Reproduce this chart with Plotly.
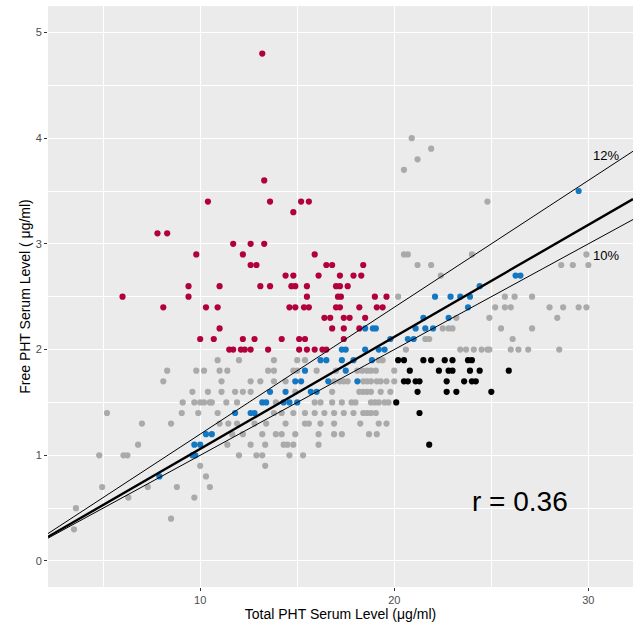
import plotly.graph_objects as go

# ---------------- data ----------------
red_x = [13.2, 13.3, 10.4, 13.6, 15.2, 15.6, 14.8, 7.8, 8.3, 11.7, 12.6, 13.3,
         9.8, 12.2, 15.9, 12.6, 12.9, 16.5, 16.8, 18.4,
         14.4, 14.8, 16.1, 17.2, 17.9, 18.3,
         9.4, 11.0, 13.1, 13.6, 14.7, 14.9, 15.5, 17.0, 17.2, 17.6,
         6.0, 9.4, 15.5, 17.1, 17.25, 19.0, 19.6,
         8.1, 10.3, 10.9, 14.6, 14.9, 15.35, 15.6, 17.0, 17.2, 18.2, 19.1, 19.4,
         16.4, 16.7, 17.4, 17.7, 18.5,
         11.0, 16.8, 17.4, 18.2,
         10.0, 10.7, 12.2, 12.8, 14.2, 15.1, 15.4, 17.4,
         11.5, 11.7, 12.1, 12.3, 12.6, 13.5, 15.1, 15.5, 15.9, 16.3, 16.5]
red_y = [4.8, 3.6, 3.4, 3.4, 3.4, 3.4, 3.3, 3.1, 3.1, 3.0, 3.0, 3.0,
         2.9, 2.9, 2.9, 2.8, 2.8, 2.8, 2.8, 2.8,
         2.7, 2.7, 2.7, 2.7, 2.7, 2.7,
         2.6, 2.6, 2.6, 2.6, 2.6, 2.6, 2.6, 2.6, 2.6, 2.6,
         2.5, 2.5, 2.5, 2.5, 2.5, 2.5, 2.5,
         2.4, 2.4, 2.4, 2.4, 2.4, 2.4, 2.4, 2.4, 2.4, 2.4, 2.4, 2.4,
         2.3, 2.3, 2.3, 2.3, 2.3,
         2.2, 2.2, 2.2, 2.2,
         2.1, 2.1, 2.1, 2.1, 2.1, 2.1, 2.1, 2.1,
         2.0, 2.0, 2.0, 2.0, 2.0, 2.0, 2.0, 2.0, 2.0, 2.0, 2.0]

blue_x = [29.5, 26.25, 26.5, 24.4, 22.1, 22.9, 23.4, 23.9, 23.8, 21.5, 22.8,
          18.5, 18.9, 19.05, 21.1, 21.6, 22.0, 19.8, 20.7, 21.0,
          17.3, 17.5, 18.5, 19.2, 19.5,
          16.2, 16.5, 17.3, 17.9, 18.85, 15.4, 17.5,
          14.9, 15.2, 16.6, 18.1, 13.6, 14.4, 15.7, 16.0,
          13.2, 13.4, 14.3, 14.6, 15.0, 11.8, 12.6, 12.8,
          10.3, 10.6, 9.7, 10.0, 9.6, 9.75, 7.9]
blue_y = [3.5, 2.7, 2.7, 2.6, 2.5, 2.5, 2.5, 2.5, 2.4, 2.3, 2.3,
          2.2, 2.2, 2.2, 2.2, 2.2, 2.2, 2.1, 2.1, 2.1,
          2.0, 2.0, 2.0, 2.0, 2.0,
          1.9, 1.9, 1.9, 1.9, 1.9, 1.8, 1.8,
          1.7, 1.7, 1.7, 1.7, 1.6, 1.6, 1.6, 1.6,
          1.5, 1.5, 1.5, 1.5, 1.5, 1.4, 1.4, 1.4,
          1.2, 1.2, 1.1, 1.1, 1.0, 1.0, 0.8]

black_x = [20.2, 20.5, 21.5, 21.9, 22.6, 23.0, 23.8, 24.0,
           20.8, 22.3, 22.8, 23.0, 23.9, 24.4, 25.9,
           20.5, 20.7, 21.1, 21.3, 22.7, 23.6, 24.0, 24.2,
           21.2, 22.7, 23.2, 25.0, 20.1, 21.3, 21.8]
black_y = [1.9, 1.9, 1.9, 1.9, 1.9, 1.9, 1.9, 1.9,
           1.8, 1.8, 1.8, 1.8, 1.8, 1.8, 1.8,
           1.7, 1.7, 1.7, 1.7, 1.7, 1.7, 1.7, 1.7,
           1.6, 1.6, 1.6, 1.6, 1.5, 1.4, 1.1]

grey_x = [20.9, 21.9, 21.2, 20.5, 24.8,
          20.5, 20.7, 24.0, 29.9,
          21.2, 21.9, 28.6, 29.2, 30.0,
          22.4,
          20.2, 25.7, 26.2, 27.1,
          25.2, 25.7, 26.0, 28.0, 28.7, 29.5, 29.9,
          23.2, 24.9, 28.4,
          22.5, 22.8, 23.0, 25.5, 27.1,
          21.6, 21.8, 26.1,
          20.6, 23.4, 23.7, 24.1, 24.5, 24.8, 24.9, 26.0, 26.4, 26.9, 28.5,
          10.9, 12.0, 13.8, 15.0, 15.4, 19.2, 19.4,
          8.3, 9.8, 10.2, 11.0, 11.4, 13.5, 13.8, 14.8, 15.0, 16.0, 17.0, 18.1, 18.35, 18.6, 18.8, 19.05, 20.0,
          8.1, 11.1, 12.6, 13.1, 13.8, 14.4, 16.9, 17.2, 17.4, 17.6, 18.4, 18.6, 18.8, 19.1, 19.3, 19.6, 20.0,
          9.6, 10.4, 11.1, 11.8, 12.2, 12.6, 14.9, 16.8, 18.2, 18.4, 18.6, 18.8, 19.3, 19.8,
          9.1, 9.7, 10.0, 10.2, 10.5, 10.6, 11.35, 11.9, 13.9, 15.9, 16.2, 16.8, 17.3, 17.8, 18.0, 18.8, 19.0, 19.2, 19.5, 19.7,
          5.2, 9.05, 9.9, 10.9, 13.8, 14.2, 14.8, 15.4, 15.9, 16.4, 16.9, 17.4, 17.9, 18.4, 18.6, 18.8, 19.05,
          7.0, 8.5, 11.0, 11.45, 11.9, 12.8, 13.4, 14.4, 15.4, 15.6, 16.2, 16.9, 18.25, 19.2, 19.6,
          11.65, 12.2, 13.2, 13.9, 14.2, 14.9, 16.1, 16.9, 17.3, 18.7, 19.1,
          6.8, 11.4, 12.6, 13.35, 14.3, 14.5, 14.8, 16.1,
          4.8, 6.05, 6.25, 12.0, 12.9, 13.2, 14.6, 15.3,
          10.0, 13.35, 10.3,
          4.95, 7.3, 8.8, 10.5,
          6.3, 9.7, 3.6, 8.5, 3.5]
grey_y = [4.0, 3.9, 3.8, 3.7, 3.4,
          2.9, 2.9, 2.9, 2.9,
          2.8, 2.8, 2.8, 2.8, 2.8,
          2.7,
          2.5, 2.5, 2.5, 2.5,
          2.4, 2.4, 2.4, 2.4, 2.4, 2.4, 2.4,
          2.3, 2.3, 2.3,
          2.2, 2.2, 2.2, 2.2, 2.2,
          2.1, 2.1, 2.1,
          2.0, 2.0, 2.0, 2.0, 2.0, 2.0, 2.0, 2.0, 2.0, 2.0, 2.0,
          1.9, 1.9, 1.9, 1.9, 1.9, 1.9, 1.9,
          1.8, 1.8, 1.8, 1.8, 1.8, 1.8, 1.8, 1.8, 1.8, 1.8, 1.8, 1.8, 1.8, 1.8, 1.8, 1.8, 1.8,
          1.7, 1.7, 1.7, 1.7, 1.7, 1.7, 1.7, 1.7, 1.7, 1.7, 1.7, 1.7, 1.7, 1.7, 1.7, 1.7, 1.7,
          1.6, 1.6, 1.6, 1.6, 1.6, 1.6, 1.6, 1.6, 1.6, 1.6, 1.6, 1.6, 1.6, 1.6,
          1.5, 1.5, 1.5, 1.5, 1.5, 1.5, 1.5, 1.5, 1.5, 1.5, 1.5, 1.5, 1.5, 1.5, 1.5, 1.5, 1.5, 1.5, 1.5, 1.5,
          1.4, 1.4, 1.4, 1.4, 1.4, 1.4, 1.4, 1.4, 1.4, 1.4, 1.4, 1.4, 1.4, 1.4, 1.4, 1.4, 1.4,
          1.3, 1.3, 1.3, 1.3, 1.3, 1.3, 1.3, 1.3, 1.3, 1.3, 1.3, 1.3, 1.3, 1.3, 1.3,
          1.2, 1.2, 1.2, 1.2, 1.2, 1.2, 1.2, 1.2, 1.2, 1.2, 1.2,
          1.1, 1.1, 1.1, 1.1, 1.1, 1.1, 1.1, 1.1,
          1.0, 1.0, 1.0, 1.0, 1.0, 1.0, 1.0, 1.0,
          0.9, 0.9, 0.8,
          0.7, 0.7, 0.7, 0.7,
          0.6, 0.6, 0.5, 0.4, 0.3]

# reference lines (slopes of free / total ratio)
line_slopes = [0.106, 0.12, 0.10]
line_widths = [2.4, 1.0, 1.0]
line_labels = ["12%", "10%"]
label_pos_y = [3.84, 2.89]
r_text = "r = 0.36"

x_range = [2.16, 32.3]
y_range = [-0.246, 5.25]
x_ticks = [10, 20, 30]
x_minor = [5, 15, 25]
y_ticks = [0, 1, 2, 3, 4, 5]
y_minor = [0.5, 1.5, 2.5, 3.5, 4.5]

FONT = "Liberation Sans, Arial, Helvetica, sans-serif"

fig = go.Figure()

def pts(x, y, color):
    fig.add_trace(go.Scatter(x=x, y=y, mode="markers",
                             marker=dict(size=6.2, color=color, line=dict(width=0)),
                             showlegend=False, hoverinfo="x+y"))

pts(grey_x, grey_y, "#AAAAAA")
pts(red_x, red_y, "#B2003B")
pts(blue_x, blue_y, "#1378C3")
pts(black_x, black_y, "#000000")

for s, w in zip(line_slopes, line_widths):
    fig.add_trace(go.Scatter(x=x_range, y=[s * x_range[0], s * x_range[1]],
                             mode="lines", line=dict(color="black", width=w),
                             showlegend=False, hoverinfo="skip"))

for lab, ly in zip(line_labels, label_pos_y):
    fig.add_annotation(x=30.93, y=ly, text=lab, showarrow=False,
                       font=dict(family=FONT, size=13, color="black"))

fig.add_annotation(x=26.47, y=0.565, text=r_text, showarrow=False,
                   font=dict(family=FONT, size=28, color="black"))

axis_common = dict(showgrid=True, gridcolor="white", gridwidth=1.1,
                   zeroline=False, showline=False, automargin=False,
                   ticks="outside", ticklen=3, tickwidth=1, tickcolor="#333333",
                   tickfont=dict(family=FONT, size=11, color="#4D4D4D"))

fig.update_xaxes(range=x_range, tickvals=x_ticks,
                 minor=dict(tickvals=x_minor, showgrid=True, gridcolor="white",
                            gridwidth=0.5, ticks=""),
                 title=dict(text="Total PHT Serum Level (μg/ml)",
                            font=dict(family=FONT, size=14, color="black"),
                            standoff=0),
                 **axis_common)
fig.update_yaxes(range=y_range, tickvals=y_ticks,
                 minor=dict(tickvals=y_minor, showgrid=True, gridcolor="white",
                            gridwidth=0.5, ticks=""),
                 title=dict(text="Free PHT Serum Level ( μg/ml)",
                            font=dict(family=FONT, size=14, color="black"),
                            standoff=1),
                 **axis_common)

fig.update_layout(width=641, height=634,
                  margin=dict(l=48, r=8, t=6, b=47),
                  plot_bgcolor="#EBEBEB", paper_bgcolor="white",
                  font=dict(family=FONT))

fig.write_html("out.html", config={"displayModeBar": False},
               post_script="document.body.style.margin='0px';"
                           "document.body.style.overflow='hidden';")
